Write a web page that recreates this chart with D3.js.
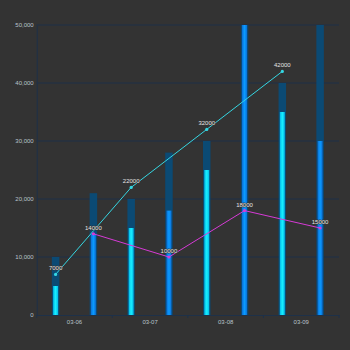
<!DOCTYPE html>
<html>
<head>
<meta charset="utf-8">
<script src="https://cdn.jsdelivr.net/npm/d3@7"></script>
<style>
  html, body { margin: 0; padding: 0; background: #333333; }
  svg { display: block; }
  text { font-family: "Liberation Sans", Arial, sans-serif; }
</style>
</head>
<body>
<svg id="chart" width="350" height="350"></svg>
<script>
// Dates on the category axis
const categories = ["03-06", "03-07", "03-08", "03-09"];

// Left group: capacity (dark) and actual (cyan)
const capacityA = [10000, 20000, 30000, 40000];
const actualA   = [5000, 15000, 25000, 35000];

// Right group: capacity (dark) and actual (blue)
const capacityB = [21000, 28000, 50000, 50000];
const actualB   = [14000, 18000, 50000, 30000];

// Trend lines drawn through each group
const trendA = [7000, 22000, 32000, 42000];
const trendB = [14000, 10000, 18000, 15000];

const yTicks = [0, 10000, 20000, 30000, 40000, 50000];

const W = 350, H = 350;
const margin = { top: 25, right: 11, bottom: 35, left: 36.7 };
const svg = d3.select("#chart");
svg.append("rect").attr("width", W).attr("height", H).attr("fill", "#333333");

const x = d3.scaleBand().domain(categories).range([margin.left, W - margin.right]).padding(0);
const sub = d3.scaleBand().domain(["a", "b"]).range([0, x.bandwidth()]).padding(0);
const y = d3.scaleLinear().domain([0, 50000]).range([H - margin.bottom, margin.top]);

const cx = (c, k) => x(c) + sub(k) + sub.bandwidth() / 2;

const defs = svg.append("defs");
function hGrad(id, edge, mid) {
  const g = defs.append("linearGradient").attr("id", id)
    .attr("x1", "0%").attr("x2", "100%").attr("y1", "0%").attr("y2", "0%");
  g.append("stop").attr("offset", "0%").attr("stop-color", edge);
  g.append("stop").attr("offset", "50%").attr("stop-color", mid);
  g.append("stop").attr("offset", "100%").attr("stop-color", edge);
}
hGrad("gCyan", "#00b8e8", "#19f0ff");
hGrad("gBlue", "#0a6fd8", "#0a9cff");

// Gridlines
const gridColor = "#1e3149";
svg.append("g").selectAll("line").data(yTicks.slice(1)).join("line")
  .attr("x1", margin.left).attr("x2", W - margin.right)
  .attr("y1", d => y(d)).attr("y2", d => y(d))
  .attr("stroke", gridColor).attr("stroke-width", 1);

// Y axis (labels only, with a plain axis line)
const yAxis = svg.append("g").attr("transform", `translate(${margin.left},0)`)
  .call(d3.axisLeft(y).tickValues(yTicks).tickSize(0).tickPadding(3).tickFormat(d3.format(",")));
yAxis.select(".domain").attr("stroke", gridColor);
yAxis.selectAll("text").attr("fill", "#b9c3cc").attr("font-size", 6);

// X axis
const xAxis = svg.append("g").attr("transform", `translate(0,${y(0)})`)
  .call(d3.axisBottom(x).tickSize(0).tickPadding(5));
xAxis.select(".domain").attr("stroke", gridColor);
xAxis.selectAll("text").attr("fill", "#b9c3cc").attr("font-size", 6);
// boundary ticks between categories
const bounds = categories.map(c => x(c)).concat([x.range()[1]]);
xAxis.append("g").selectAll("line").data(bounds).join("line")
  .attr("x1", d => d).attr("x2", d => d).attr("y1", 0).attr("y2", 3)
  .attr("stroke", gridColor);

const bgW = 7.5, fgW = 5;
function bars(values, key, width, fill) {
  svg.append("g").selectAll("rect").data(categories).join("rect")
    .attr("x", (c) => cx(c, key) - width / 2)
    .attr("width", width)
    .attr("y", (c, i) => y(values[i]))
    .attr("height", (c, i) => y(0) - y(values[i]))
    .attr("fill", fill);
}
bars(capacityA, "a", bgW, "#0b4a74");
bars(capacityB, "b", bgW, "#0b4a74");
bars(actualA, "a", fgW, "url(#gCyan)");
bars(actualB, "b", fgW, "url(#gBlue)");

function trend(values, key, color) {
  const pts = categories.map((c, i) => [cx(c, key), y(values[i])]);
  svg.append("path").attr("d", d3.line()(pts))
    .attr("fill", "none").attr("stroke", color).attr("stroke-width", 1);
  svg.append("g").selectAll("circle").data(pts).join("circle")
    .attr("cx", d => d[0]).attr("cy", d => d[1]).attr("r", 1.6).attr("fill", color);
  svg.append("g").selectAll("text").data(values).join("text")
    .attr("x", (d, i) => pts[i][0]).attr("y", (d, i) => pts[i][1] - 4)
    .attr("text-anchor", "middle").attr("font-size", 6)
    .attr("fill", "#e4e4e4")
    .attr("stroke", "#333333").attr("stroke-width", 1.2).attr("paint-order", "stroke")
    .text(d => d);
}
trend(trendA, "a", "#35d6e2");
trend(trendB, "b", "#d63ad6");
</script>
</body>
</html>
